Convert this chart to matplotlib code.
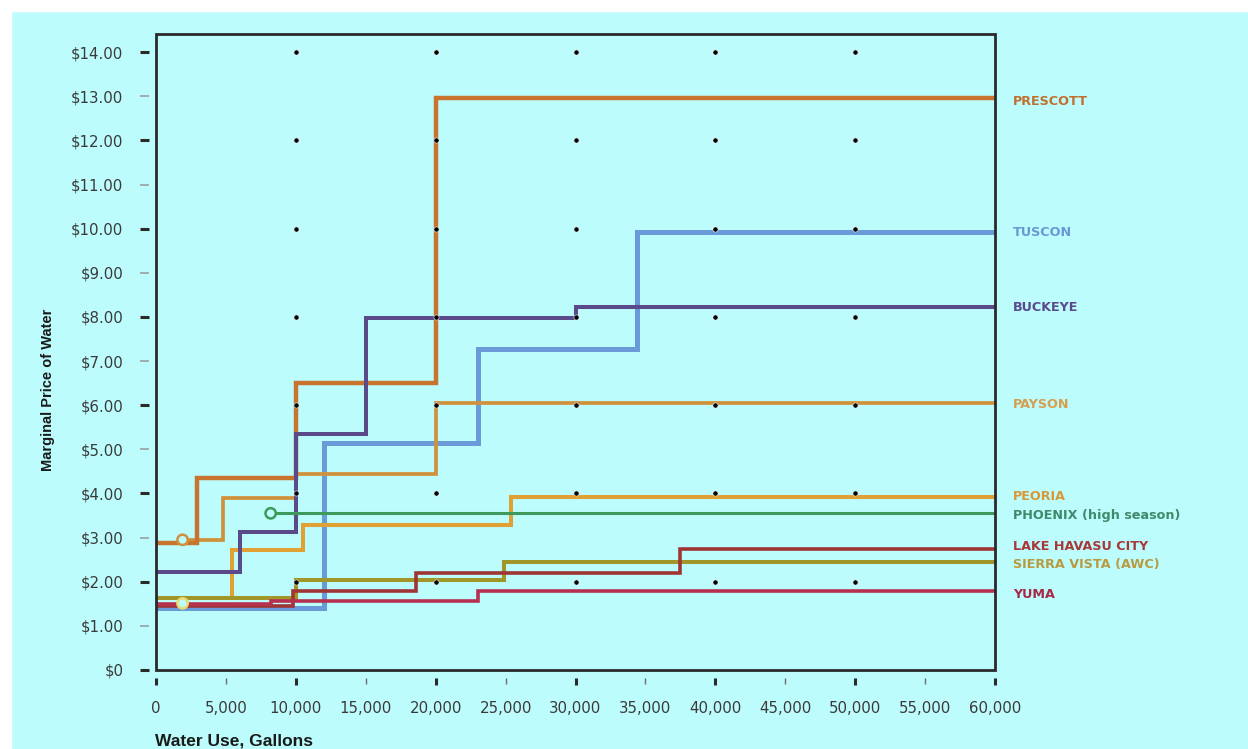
import matplotlib.pyplot as plt
from matplotlib.patches import Rectangle
from matplotlib.ticker import MultipleLocator, FuncFormatter

# step breakpoints (gallons) and marginal price after each breakpoint
prescott_x = [0, 2900, 10000, 20000]
prescott_y = [2.88, 4.35, 6.5, 12.95]
payson_x = [1900, 4800, 10000, 20000]
payson_y = [2.95, 3.9, 4.45, 6.05]
tuscon_x = [0, 12000, 23000, 34400]
tuscon_y = [1.40, 5.15, 7.28, 9.93]
buckeye_x = [0, 6000, 10000, 15000, 30000]
buckeye_y = [2.22, 3.12, 5.35, 7.98, 8.22]
peoria_x = [0, 5400, 10500, 25400]
peoria_y = [1.63, 2.72, 3.28, 3.92]
phoenix_x = [8200]
phoenix_y = [3.55]
havasu_x = [0, 9800, 18600, 37500]
havasu_y = [1.45, 1.78, 2.2, 2.75]
sierra_x = [0, 10000, 24900]
sierra_y = [1.64, 2.05, 2.45]
yuma_x = [0, 8200, 23000]
yuma_y = [1.5, 1.57, 1.79]

# open circle markers at the start of some schedules
circle_x = [1900, 8200, 1900]
circle_y = [2.95, 3.55, 1.51]
circle_c = ["#D0913C", "#3E9A5C", "#E8DC70"]

labels = ["PRESCOTT", "TUSCON", "BUCKEYE", "PAYSON", "PEORIA",
          "PHOENIX (high season)", "LAKE HAVASU CITY", "SIERRA VISTA (AWC)", "YUMA"]
label_y = [12.89, 9.92, 8.22, 6.02, 3.92, 3.51, 2.79, 2.38, 1.70]
label_c = ["#C0702E", "#6A98D6", "#5A4A8C", "#D4A050", "#D89838",
           "#3E8A6A", "#A83838", "#B89A40", "#A82848"]

max_gallons = 60000
END_X = 60000

bg = "#BDFCFC"
fig = plt.figure(figsize=(12.48, 7.49), dpi=100, facecolor=bg)
fig.patches.append(Rectangle((0, 1 - 11 / 749), 1, 11 / 749, transform=fig.transFigure,
                             color="white", zorder=0))
fig.patches.append(Rectangle((0, 0), 11 / 1248, 1, transform=fig.transFigure,
                             color="white", zorder=0))

ax = fig.add_axes([156 / 1248, 79 / 749, 839 / 1248, 636 / 749])
ax.set_facecolor(bg)


def draw_step(xs, ys, color, lw, z):
    ax.step(xs + [END_X], ys + [ys[-1]], where="post", color=color, lw=lw,
            zorder=z, solid_joinstyle="miter", solid_capstyle="butt")


draw_step(tuscon_x, tuscon_y, "#6A9AD8", 3.6, 2)
draw_step(peoria_x, peoria_y, "#E0A034", 2.9, 3)
draw_step(payson_x, payson_y, "#D0913C", 2.7, 3)
draw_step(prescott_x, prescott_y, "#C8742F", 3.2, 3)
draw_step(buckeye_x, buckeye_y, "#5A4A8A", 2.9, 3)
draw_step(sierra_x, sierra_y, "#A0962A", 2.9, 3)
draw_step(havasu_x, havasu_y, "#A03535", 2.6, 3)
draw_step(yuma_x, yuma_y, "#B83050", 2.6, 3)
draw_step(phoenix_x, phoenix_y, "#3E9A5C", 2.2, 4)

ax.scatter(circle_x, circle_y, s=55, facecolor=bg, edgecolor=circle_c, lw=1.8, zorder=6)

# black reference dots
dot_x = [x for x in range(10000, 60000, 10000) for _ in range(7)]
dot_y = [y for _ in range(10000, 60000, 10000) for y in range(2, 16, 2)]
ax.scatter(dot_x, dot_y, s=14, color="black", edgecolor="white", lw=0.4, zorder=7)

for name, y, c in zip(labels, label_y, label_c):
    ax.text(61300, y, name, color=c, fontsize=9.2, fontweight="bold",
            va="center", ha="left", clip_on=False)

ax.set_xlim(0, max_gallons)
ax.set_ylim(0, 14.41)

for s in ax.spines.values():
    s.set_visible(False)
ax.spines["left"].set_position(("outward", 5))
ax.spines["bottom"].set_position(("outward", 6))
ax.add_patch(Rectangle((0, 0), 1, 1, transform=ax.transAxes, fill=False,
                       ec="#2a2a2a", lw=2, zorder=8, clip_on=False))

ax.yaxis.set_major_locator(MultipleLocator(2))
ax.yaxis.set_minor_locator(MultipleLocator(1))
ax.xaxis.set_major_locator(MultipleLocator(10000))
ax.xaxis.set_minor_locator(MultipleLocator(5000))

yfmt = FuncFormatter(lambda v, p: "$0" if v == 0 else f"${v:.2f}")
xfmt = FuncFormatter(lambda v, p: f"{int(v):,}")
ax.yaxis.set_major_formatter(yfmt)
ax.yaxis.set_minor_formatter(yfmt)
ax.xaxis.set_major_formatter(xfmt)
ax.xaxis.set_minor_formatter(xfmt)

ax.tick_params(axis="y", which="major", length=6.5, width=2.2, color="#2a2a2a",
               pad=12, labelsize=10.8, labelcolor="#3a3a3a")
ax.tick_params(axis="y", which="minor", length=6.5, width=1.2, color="#9aa0a0",
               pad=12, labelsize=10.8, labelcolor="#3a3a3a")
ax.tick_params(axis="x", which="major", length=5, width=2.2, color="#2a2a2a",
               pad=11, labelsize=10.8, labelcolor="#3a3a3a")
ax.tick_params(axis="x", which="minor", length=4, width=1.0, color="#6a6a6a",
               pad=12, labelsize=10.8, labelcolor="#3a3a3a")

fig.text(48 / 1248, 1 - 390 / 749, "Marginal Price of Water", rotation=90,
         family="Liberation Sans", fontweight="bold", fontsize=10.5,
         color="#1a1a1a", ha="center", va="center")
fig.text(155 / 1248, 1 - 734 / 749, "Water Use, Gallons", family="Liberation Sans",
         fontweight="bold", fontsize=12.5, color="#1a1a1a", ha="left", va="top")

fig.savefig("out.png", dpi=100, facecolor=bg)
